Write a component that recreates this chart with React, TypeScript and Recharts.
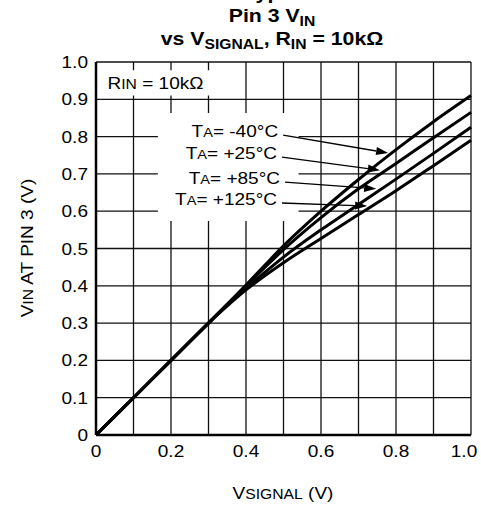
import React from 'react';
import { LineChart, Line, XAxis, YAxis, CartesianGrid, ReferenceArea, ReferenceLine, Customized } from 'recharts';

const FONT = '"Liberation Sans", Arial, Helvetica, sans-serif';
const SX = 1.12;

// V_SIGNAL (V)
const vSignal = [0, 0.1, 0.2, 0.3, 0.35, 0.4, 0.45, 0.5, 0.6, 0.7, 0.8, 0.9, 1.0];
// V_IN at pin 3 (V) per temperature
const vinM40 = [0, 0.1, 0.2, 0.3, 0.351, 0.402, 0.455, 0.507, 0.6, 0.685, 0.765, 0.84, 0.91];
const vin25 = [0, 0.1, 0.2, 0.3, 0.35, 0.399, 0.449, 0.497, 0.583, 0.66, 0.728, 0.797, 0.865];
const vin85 = [0, 0.1, 0.2, 0.3, 0.348, 0.393, 0.436, 0.477, 0.55, 0.618, 0.686, 0.755, 0.825];
const vin125 = [0, 0.1, 0.2, 0.3, 0.346, 0.389, 0.427, 0.462, 0.527, 0.591, 0.655, 0.722, 0.79];

const seriesKeys = ['m40', 't25', 't85', 't125'];
const seriesLabels = ['-40°C', '+25°C', '+85°C', '+125°C'];

const xTicks = [0, 0.1, 0.2, 0.3, 0.4, 0.5, 0.6, 0.7, 0.8, 0.9, 1.0];
const yTicks = [0, 0.1, 0.2, 0.3, 0.4, 0.5, 0.6, 0.7, 0.8, 0.9, 1.0];
const xTickLabels = ['0', '', '0.2', '', '0.4', '', '0.6', '', '0.8', '', '1.0'];
const yTickLabels = ['0', '0.1', '0.2', '0.3', '0.4', '0.5', '0.6', '0.7', '0.8', '0.9', '1.0'];

// annotation arrows (data coordinates): start near label, end near curve
const arrowStart = [
  { x: 0.499, y: 0.804 },
  { x: 0.496, y: 0.745 },
  { x: 0.504, y: 0.678 },
  { x: 0.496, y: 0.622 },
];
const arrowEnd = [
  { x: 0.779, y: 0.756 },
  { x: 0.757, y: 0.71 },
  { x: 0.747, y: 0.66 },
  { x: 0.723, y: 0.614 },
];

const data = vSignal.map((x, i) => ({
  x,
  m40: vinM40[i],
  t25: vin25[i],
  t85: vin85[i],
  t125: vin125[i],
}));

const SText = ({ x, y, anchor = 'start', size = 17, weight = 'normal', rotate = 0, dy, children }: any) => (
  <g transform={`translate(${x},${y}) rotate(${rotate}) scale(${SX},1)`}>
    <text x={0} y={0} dy={dy} textAnchor={anchor} fontSize={size} fontWeight={weight} fontFamily={FONT} fill="#000">
      {children}
    </text>
  </g>
);

const XTick = (props: any) => {
  const { x, y, payload } = props;
  const i = Math.round(payload.value * 10);
  const s = xTickLabels[i];
  if (!s) return <g />;
  const last = i === xTickLabels.length - 1;
  return <SText x={last ? x - 7 : x} y={y} anchor="middle" dy="0.71em">{s}</SText>;
};

const YTick = (props: any) => {
  const { x, y, payload } = props;
  const i = Math.round(payload.value * 10);
  return <SText x={x} y={y} anchor="end" dy="0.355em">{yTickLabels[i]}</SText>;
};

const makeArrow = (label: string) => (p: any) => {
  const { x1, y1, x2, y2 } = p;
  const ang = Math.atan2(y2 - y1, x2 - x1);
  const L = 12;
  const W = 4;
  const bx = x2 - L * Math.cos(ang);
  const by = y2 - L * Math.sin(ang);
  const px = -Math.sin(ang) * W;
  const py = Math.cos(ang) * W;
  return (
    <g>
      <line x1={x1} y1={y1} x2={bx} y2={by} stroke="#000" strokeWidth={1.3} />
      <polygon points={`${x2},${y2} ${bx + px},${by + py} ${bx - px},${by - py}`} fill="#000" />
      <SText x={x1 - 5} y={y1 + 2} anchor="end">
        T<tspan fontSize={13}>A</tspan>= {label}
      </SText>
    </g>
  );
};

const Titles = () => (
  <g>
    <SText x={280} y={-1} anchor="middle" size={19} weight="bold">Typical</SText>
    <SText x={272} y={22} anchor="middle" size={19} weight="bold">
      Pin 3 V<tspan fontSize={14} dy={4}>IN</tspan>
    </SText>
    <SText x={272} y={45} anchor="middle" size={19} weight="bold">
      vs V<tspan fontSize={14} dy={4}>SIGNAL</tspan>
      <tspan dy={-4}>, R</tspan>
      <tspan fontSize={14} dy={4}>IN</tspan>
      <tspan dy={-4}> = 10kΩ</tspan>
    </SText>
    <SText x={27} y={248} anchor="middle" rotate={-90} dy="0.35em">
      V<tspan fontSize={14}>IN</tspan> AT PIN 3 (V)
    </SText>
    <SText x={283} y={499} anchor="middle">
      V<tspan fontSize={14}>SIGNAL</tspan> (V)
    </SText>
  </g>
);

const RinLabel = (p: any) => {
  const vb = p.viewBox || {};
  return (
    <SText x={vb.x + 10} y={vb.y + vb.height / 2 + 6}>
      R<tspan fontSize={14}>IN</tspan> = 10kΩ
    </SText>
  );
};

export default function App() {
  return (
    <div style={{ position: 'absolute', left: 0, top: 0, background: '#fff' }}>
      <LineChart width={481} height={508} data={data} margin={{ top: 62, right: 10, bottom: 0, left: 0 }}>
        <CartesianGrid stroke="#111" strokeWidth={1.3} />
        <XAxis
          dataKey="x"
          type="number"
          domain={[0, 1]}
          ticks={xTicks}
          interval={0}
          height={73}
          tickSize={0}
          tickMargin={10}
          tick={XTick}
          axisLine={{ stroke: '#000', strokeWidth: 2.5 }}
          tickLine={false}
        />
        <YAxis
          type="number"
          domain={[0, 1]}
          ticks={yTicks}
          interval={0}
          width={96}
          tickSize={0}
          tickMargin={8}
          tick={YTick}
          axisLine={{ stroke: '#000', strokeWidth: 2.5 }}
          tickLine={false}
        />
        <ReferenceArea x1={0.004} x2={0.37} y1={0.91} y2={0.978} fill="#fff" fillOpacity={1} stroke="none" label={RinLabel} />
        <ReferenceArea x1={0.165} x2={0.54} y1={0.574} y2={0.863} fill="#fff" fillOpacity={1} stroke="none" />
        {seriesKeys.map((k) => (
          <Line key={k} dataKey={k} type="monotone" stroke="#000" strokeWidth={3} dot={false} isAnimationActive={false} />
        ))}
        {seriesLabels.map((lab, i) => (
          <ReferenceLine key={lab} segment={[arrowStart[i], arrowEnd[i]]} shape={makeArrow(lab)} />
        ))}
        <Customized component={Titles} />
      </LineChart>
    </div>
  );
}
